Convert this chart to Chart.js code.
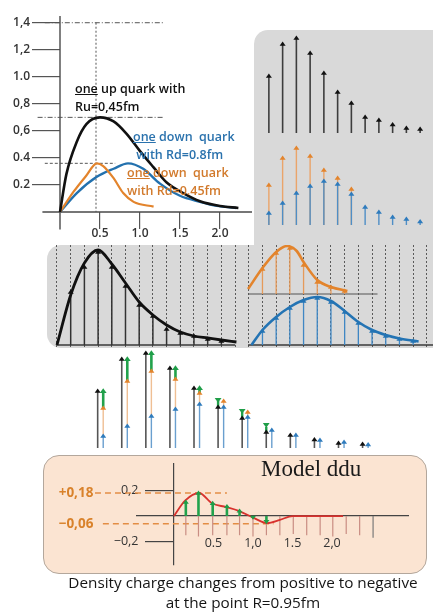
<!DOCTYPE html>
<html>
<head>
<meta charset="utf-8">
<script src="https://cdn.jsdelivr.net/npm/chart.js@4.4.1/dist/chart.umd.min.js"></script>
<style>
  html, body { margin: 0; padding: 0; background: #fff; }
  #page { position: relative; width: 433px; height: 613px; overflow: hidden; font-family: "Open Sans", sans-serif; }
  #page canvas, .panel, .note { position: absolute; }
  .panel { background: #d9d9d9; border-radius: 14px; }
  .note { font-size: 12.5px; font-weight: 600; line-height: 18px; white-space: nowrap; }
  .caption { position: absolute; left: 33px; width: 420px; text-align: center; font-size: 15.3px; color: #151515; }
</style>
</head>
<body>
<div id="page">
  <div class="panel" style="left:254px;top:30px;width:200px;height:318px"></div>
  <div class="panel" style="left:47px;top:245px;width:400px;height:103px"></div>
  <div class="panel" style="left:43px;top:455px;width:382px;height:117px;background:#fbe4d2;border:1px solid #b3a79c;border-radius:16px"></div>

  <canvas id="density" width="255" height="245" style="left:0;top:0"></canvas>
  <canvas id="upStems" width="178" height="110" style="left:255px;top:28px"></canvas>
  <canvas id="downStems" width="178" height="110" style="left:255px;top:120px"></canvas>
  <canvas id="fits" width="386" height="102" style="left:47px;top:245px"></canvas>
  <canvas id="sums" width="310" height="107" style="left:80px;top:345px"></canvas>
  <canvas id="ddu" width="384" height="119" style="left:43px;top:455px"></canvas>

  <div class="note" style="left:75px;top:80px;color:#111"><u>one</u> up quark with<br>Ru=0,45fm</div>
  <div class="note" style="left:133px;top:128px;color:#2a72ad"><u>one</u> down&nbsp; quark<br>&nbsp;with Rd=0.8fm</div>
  <div class="note" style="left:127px;top:164px;color:#d27a2c"><u>one</u> down&nbsp; quark<br>with Rd=0.45fm</div>
  <div class="note" style="left:261px;top:456px;font:23px 'Liberation Serif',serif;color:#1a1a1a">Model ddu</div>
  <div class="caption" style="top:572px">Density charge changes from positive to negative</div>
  <div class="caption" style="top:592px">at the point R=0.95fm</div>
</div>

<script>
// top left: charge density of one quark vs r (fm)
const upR    = [0, 0.08, 0.21, 0.33, 0.5, 0.67, 0.83, 1.0, 1.17, 1.33, 1.54, 1.75, 2.0, 2.23];
const upRho  = [0, 0.28, 0.52, 0.65, 0.70, 0.67, 0.58, 0.45, 0.33, 0.22, 0.14, 0.08, 0.045, 0.03];
const d45R   = [0, 0.17, 0.33, 0.46, 0.54, 0.67, 0.79, 0.92, 1.17];
const d45Rho = [0, 0.15, 0.27, 0.36, 0.34, 0.25, 0.14, 0.075, 0.04];
const d80R   = [0, 0.21, 0.46, 0.67, 0.85, 1.04, 1.25, 1.5, 1.75, 1.96, 2.2];
const d80Rho = [0, 0.14, 0.26, 0.32, 0.36, 0.32, 0.21, 0.12, 0.075, 0.045, 0.03];
const yTicks = [0.2, 0.4, 0.6, 0.8, 1.0, 1.2, 1.4];
const yTickText = ['0.2', '0.4', '0,6', '0,8', '1.0', '1,2', '1,4'];
const xTicks = [0.5, 1.0, 1.5, 2.0];
const xTickText = ['0.5', '1.0', '1.5', '2.0'];
const guideLevel = [1.4, 0.7, 0.36];
const guideFrom  = [-0.19, -0.28, -0.19];
const guideTo    = [1.31, 1.29, 0.69];
const peakR = 0.45;

// sampled shells (top right + middle sums)
const shells   = ['1', '2', '3', '4', '5', '6', '7', '8', '9', '10', '11', '12'];
const upStem   = [0.57, 0.89, 0.95, 0.80, 0.60, 0.41, 0.30, 0.16, 0.13, 0.085, 0.05, 0.04];
const d80Stem  = [0.12, 0.22, 0.32, 0.39, 0.44, 0.41, 0.31, 0.18, 0.13, 0.08, 0.06, 0.035];
const d45Stem  = [0.40, 0.67, 0.77, 0.69, 0.55, 0.47, 0.36];
const diffFrom = [0.40, 0.67, 0.77, 0.69, 0.55, 0.47, 0.36, 0.21];

// middle panel: fitted curves over the grid
const fitUpK    = [0, 1, 2, 3, 4, 5, 6, 7, 8, 9, 10, 11, 12, 13.1];
const fitUpV    = [0, 0.50, 0.82, 0.95, 0.81, 0.62, 0.43, 0.30, 0.20, 0.13, 0.09, 0.07, 0.05, 0.03];
const fitUpStemK = [1, 2, 3, 4, 5, 6, 7, 8, 9, 10, 11, 12];
const fitUpStem = [0.53, 0.78, 0.93, 0.78, 0.59, 0.40, 0.29, 0.16, 0.12, 0.09, 0.06, 0.04];
const fitD80K   = [14.2, 15, 16, 17, 18, 19, 20, 21, 22, 23, 24, 25, 26.4];
const fitD80V   = [0, 0.15, 0.28, 0.38, 0.45, 0.48, 0.44, 0.34, 0.23, 0.15, 0.10, 0.065, 0.035];
const fitD80StemK = [15, 16, 17, 18, 19, 20, 21, 22, 23, 24, 25, 26];
const fitD80Stem = [0.14, 0.27, 0.37, 0.44, 0.47, 0.43, 0.33, 0.22, 0.14, 0.09, 0.06, 0.04];
const fitD45K   = [13.95, 15, 16, 16.8, 17.5, 18, 19, 20, 21.2];
const fitD45V   = [0.05, 0.26, 0.42, 0.48, 0.43, 0.32, 0.14, 0.07, 0.03];
const fitD45StemK = [15, 16, 17, 18, 19, 20, 21];
const fitD45Stem = [0.25, 0.41, 0.46, 0.29, 0.12, 0.07, 0.03];
const upAxisK  = [0, 13];
const d80AxisK = [13.95, 27.5];
const d45AxisK = [13.95, 23.4];

// bottom: model ddu
const dduR  = [0, 0.14, 0.32, 0.48, 0.66, 0.82, 1.0, 1.18, 1.34, 1.5, 2.14];
const dduV  = [0, 0.12, 0.18, 0.10, 0.07, 0.04, -0.012, -0.055, -0.03, 0, 0];
const dduStemR = [0.15, 0.31, 0.49, 0.67, 0.83, 1.0, 1.17, 1.34, 1.51, 1.68, 1.85, 2.01, 2.18, 2.35, 2.52];
const dduGreen = [0.11, 0.18, 0.10, 0.075, 0.04, -0.01, -0.045];
const dduDown  = [-0.15, -0.16, -0.15, -0.15, -0.15, -0.16, -0.15, -0.15, -0.14, -0.15, -0.15, -0.16, -0.14, -0.15, -0.17];
const dduYTicks = [0.2, -0.2];
const dduYText  = ['0,2', '\u22120,2'];
const dduXTicks = [0.5, 1.0, 1.5, 2.0];
const dduXText  = ['0.5', '1,0', '1.5', '2,0'];
const markLevel = [0.18, -0.06];
const markText  = ['+0,18', '\u22120,06'];
const markFrom  = [-1.0, -0.9];
const markTo    = [0.67, 1.26];

Chart.defaults.font.family = "'Open Sans', sans-serif";

const pts = (xs, ys) => xs.map((x, i) => ({x, y: ys[i]}));
const el = id => document.getElementById(id);

// triangle heads on top of stems, placed with the dataset's own scale
const arrowHeads = {
  id: 'arrowHeads',
  afterDatasetsDraw(chart) {
    const ctx = chart.ctx;
    const sets = chart.data.datasets;
    for (let i = sets.length - 1; i >= 0; i--) {
      const ds = sets[i];
      if (!ds.head) continue;
      const meta = chart.getDatasetMeta(i);
      const ys = chart.scales[meta.yAxisID];
      ctx.save();
      ctx.fillStyle = ds.headColor || ds.backgroundColor;
      meta.data.forEach((bar, j) => {
        let v = ds.data[j];
        if (v && typeof v === 'object' && !Array.isArray(v)) v = v.y;
        if (v === null || v === undefined) return;
        const from = Array.isArray(v) ? v[0] : 0;
        const to = Array.isArray(v) ? v[1] : v;
        const y = ys.getPixelForValue(to);
        const w = ds.head, h = ds.head * 1.4;
        let tip, base;
        if (to >= from) { tip = y - 0.6 * h; base = y + 0.4 * h; }
        else { tip = y + 0.6 * h - (ds.headLift || 0); base = tip - h; }
        ctx.beginPath();
        ctx.moveTo(bar.x, tip);
        ctx.lineTo(bar.x - w, base);
        ctx.lineTo(bar.x + w, base);
        ctx.closePath();
        ctx.fill();
      });
      ctx.restore();
    }
  }
};

const axisLines = {
  id: 'axisLines',
  beforeDatasetsDraw(chart, args, o) {
    const {ctx, scales: {x, y}} = chart;
    ctx.save();
    ctx.strokeStyle = o.color;
    ctx.lineWidth = o.width;
    ctx.beginPath();
    ctx.moveTo(x.getPixelForValue(o.x[0]), y.getPixelForValue(0));
    ctx.lineTo(x.getPixelForValue(o.x[1]), y.getPixelForValue(0));
    ctx.moveTo(x.getPixelForValue(0), y.getPixelForValue(o.y[0]));
    ctx.lineTo(x.getPixelForValue(0), y.getPixelForValue(o.y[1]));
    ctx.stroke();
    ctx.restore();
  }
};

const quiet = {
  responsive: false,
  animation: false,
  events: [],
  plugins: {legend: {display: false}, tooltip: {enabled: false}}
};

function curve(xs, ys, color, width, axis) {
  return {type: 'line', data: pts(xs, ys), borderColor: color, borderWidth: width,
    pointRadius: 0, fill: false, cubicInterpolationMode: 'monotone', clip: false,
    yAxisID: axis || 'y'};
}
function flat(span, color, width, axis) {
  return {type: 'line', data: [{x: span[0], y: 0}, {x: span[1], y: 0}], borderColor: color,
    borderWidth: width, pointRadius: 0, clip: false, yAxisID: axis || 'y'};
}

// ---------- top-left densities ----------
const tickFont = {size: 12, weight: '600'};
new Chart(el('density'), {
  type: 'line',
  data: {datasets: [
    curve(upR, upRho, '#111111', 2.6),
    curve(d45R, d45Rho, '#e3842c', 2.2),
    curve(d80R, d80Rho, '#2371ae', 2.4),
    ...guideLevel.map((lv, i) => ({
      data: [{x: guideFrom[i], y: lv}, {x: guideTo[i], y: lv}],
      borderColor: '#555', borderWidth: 1, pointRadius: 0, clip: false,
      borderDash: i === 2 ? [3, 2] : [5, 2, 1, 2]
    })),
    {data: [{x: peakR, y: guideLevel[0]}, {x: peakR, y: 0}], borderColor: '#555',
      borderWidth: 1, pointRadius: 0, clip: false, borderDash: [2, 2]}
  ]},
  options: {
    ...quiet,
    layout: {padding: {top: 6, right: 3}},
    plugins: {...quiet.plugins, axisLines: {x: [-0.22, 2.4], y: [-0.13, 1.45], color: '#4a4a4a', width: 1.4}},
    scales: {
      x: {type: 'linear', min: 0, max: 2.4,
        afterBuildTicks: s => { s.ticks = xTicks.map(v => ({value: v})); },
        afterFit: s => { s.height = 33; },
        ticks: {callback: (v, i) => xTickText[i], color: '#333', font: tickFont, padding: -3, maxRotation: 0, autoSkip: false},
        grid: {drawOnChartArea: false, tickLength: 17, color: '#555', lineWidth: 1.2},
        border: {display: false}},
      y: {min: 0, max: 1.5,
        afterBuildTicks: s => { s.ticks = yTicks.map(v => ({value: v})); },
        afterFit: s => { s.width = 60; },
        ticks: {callback: (v, i) => yTickText[i], color: '#333', font: tickFont, padding: 2, autoSkip: false},
        grid: {drawOnChartArea: false, tickLength: 28, color: '#555', lineWidth: 1.2},
        border: {display: false}}
    }
  },
  plugins: [axisLines]
});

// ---------- top-right stems ----------
const hidden = {x: {display: false}, y: {display: false, min: 0, max: 1}};
new Chart(el('upStems'), {
  type: 'bar',
  data: {labels: shells, datasets: [
    {data: upStem, backgroundColor: '#3d3d3d', maxBarThickness: 1.6, grouped: false, head: 3, headColor: '#111'}
  ]},
  options: {...quiet, layout: {padding: {left: 7, right: 6, top: 5, bottom: 5}}, scales: hidden},
  plugins: [arrowHeads]
});
new Chart(el('downStems'), {
  type: 'bar',
  data: {labels: shells, datasets: [
    {data: d80Stem, backgroundColor: '#4f8ec6', maxBarThickness: 1.4, grouped: false, head: 3, headColor: '#2e7bbd'},
    {data: d45Stem, backgroundColor: '#eaa46a', maxBarThickness: 1.4, grouped: false, head: 3, headColor: '#e3842c'}
  ]},
  options: {...quiet, layout: {padding: {left: 7, right: 6, top: 5, bottom: 5}}, scales: hidden},
  plugins: [arrowHeads]
});

// ---------- middle grey panel: fits on a dotted grid ----------
new Chart(el('fits'), {
  type: 'bar',
  data: {datasets: [
    curve(fitUpK, fitUpV, '#111111', 2.8),
    curve(fitD45K, fitD45V, '#e3842c', 2.6, 'y2'),
    curve(fitD80K, fitD80V, '#2474b4', 2.6),
    {data: pts(fitUpStemK, fitUpStem), backgroundColor: '#333', maxBarThickness: 1.5, grouped: false, head: 3, headColor: '#111'},
    {data: pts(fitD45StemK, fitD45Stem), backgroundColor: '#e59a5a', maxBarThickness: 1.3, grouped: false, head: 3, headColor: '#e3842c', yAxisID: 'y2'},
    {data: pts(fitD80StemK, fitD80Stem), backgroundColor: '#3f87c4', maxBarThickness: 1.3, grouped: false, head: 3, headColor: '#2474b4'},
    flat(upAxisK, '#3a3a3a', 1.6),
    flat(d80AxisK, '#3a3a3a', 1.6),
    flat(d45AxisK, '#555', 1.2, 'y2')
  ]},
  options: {
    ...quiet,
    scales: {
      x: {type: 'linear', min: -0.73, max: 27.45, offset: false,
        afterFit: s => { s.height = 0; },
        ticks: {display: false, stepSize: 1, includeBounds: false, maxTicksLimit: 40},
        grid: {color: '#5a5a5a', lineWidth: 1, drawTicks: false, offset: false},
        border: {display: false, dash: [2, 2]}},
      y: {display: false, min: -0.02, max: 1.0},
      y2: {display: false, min: -0.53, max: 0.49}
    }
  },
  plugins: [arrowHeads]
});

// ---------- white band: up stem next to the down stems ----------
new Chart(el('sums'), {
  type: 'bar',
  data: {labels: shells, datasets: [
    {data: diffFrom.map((f, i) => upStem[i] < f ? [f, upStem[i]] : null), stack: 'a',
      backgroundColor: '#22a24c', maxBarThickness: 2.4, head: 3.4, headColor: '#1f9e48', headLift: 7},
    {data: diffFrom.map((f, i) => upStem[i] >= f ? [f, upStem[i]] : null), stack: 'b',
      backgroundColor: '#22a24c', maxBarThickness: 2.6, head: 3.4, headColor: '#1f9e48'},
    {data: upStem, stack: 'a', backgroundColor: '#555', maxBarThickness: 1.6, head: 3, headColor: '#111'},
    {data: d80Stem, stack: 'b', backgroundColor: '#6a9fcf', maxBarThickness: 1.4, head: 3, headColor: '#2e7bbd'},
    {data: d45Stem.map((v, i) => [d80Stem[i], v]), stack: 'b', backgroundColor: '#efbf94', maxBarThickness: 1.4, head: 3, headColor: '#e3842c'}
  ]},
  options: {
    ...quiet,
    categoryPercentage: 0.46,
    barPercentage: 1,
    layout: {padding: {left: 8.4, right: 12.6, top: 3, bottom: 4}},
    scales: {x: {display: false, stacked: true}, y: {display: false, stacked: false, min: 0, max: 1}}
  },
  plugins: [arrowHeads]
});

// ---------- model ddu ----------
const axisFont = {size: 12.5};
const dduMin = -0.383, dduMax = 0.414;
new Chart(el('ddu'), {
  type: 'bar',
  data: {datasets: [
    curve(dduR, dduV, '#d8322e', 1.8),
    {data: pts(dduStemR.slice(0, dduGreen.length), dduGreen), backgroundColor: '#22a24c', maxBarThickness: 2.6,
      grouped: false, head: 3, headColor: '#1f9e48'},
    {data: pts(dduStemR, dduDown), maxBarThickness: 1.2, grouped: false,
      backgroundColor: dduDown.map((v, i) => i === dduDown.length - 1 ? '#7a7a7a' : '#c98d83')},
    ...markLevel.map((lv, i) => ({type: 'line',
      data: [{x: markFrom[i], y: lv}, {x: markTo[i], y: lv}], borderColor: '#e38d45',
      borderWidth: 1.5, borderDash: [6, 4], pointRadius: 0, clip: false}))
  ]},
  options: {
    ...quiet,
    layout: {padding: {left: 94, right: 19, top: 8, bottom: 9}},
    scales: {
      x: {type: 'linear', min: -0.468, max: 2.962, offset: false, position: {y: 0},
        afterBuildTicks: s => { s.ticks = dduXTicks.map(v => ({value: v})); },
        ticks: {callback: (v, i) => dduXText[i], color: '#333', font: axisFont, padding: 20, maxRotation: 0, autoSkip: false},
        grid: {display: false, drawTicks: false},
        border: {color: '#444', width: 1.2}},
      // axis line with its tick marks
      y: {min: dduMin, max: dduMax, position: {x: 0},
        afterBuildTicks: s => { s.ticks = dduYTicks.map(v => ({value: v})); },
        ticks: {display: false},
        grid: {drawOnChartArea: false, tickLength: 28, color: '#444', lineWidth: 1.2},
        border: {color: '#444', width: 1.2}},
      // its labels, set left of the tick marks
      yl: {min: dduMin, max: dduMax, position: {x: -0.45},
        afterBuildTicks: s => { s.ticks = dduYTicks.map(v => ({value: v})); },
        ticks: {callback: (v, i) => dduYText[i], color: '#333', font: axisFont, padding: 0, autoSkip: false},
        grid: {display: false, drawTicks: false},
        border: {display: false}},
      yo: {min: dduMin, max: dduMax, position: {x: -1.02},
        afterBuildTicks: s => { s.ticks = markLevel.map(v => ({value: v})); },
        ticks: {callback: (v, i) => markText[i], color: '#d9822b', font: {size: 13.5, weight: 'bold'}, padding: 0, autoSkip: false},
        grid: {display: false, drawTicks: false},
        border: {display: false}}
    }
  },
  plugins: [arrowHeads]
});
</script>
</body>
</html>
